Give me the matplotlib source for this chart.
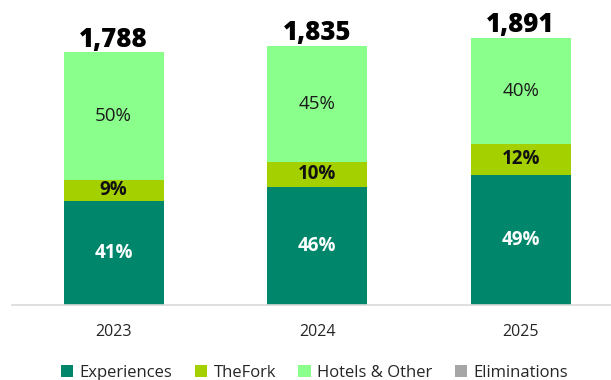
import matplotlib.pyplot as plt
import numpy as np

plt.rcParams['font.family'] = ['Open Sans', 'DejaVu Sans']

# revenue by segment (EUR m) and group total per year
years = ['2023', '2024', '2025']
totals = [1788, 1835, 1891]
experiences = [733, 837, 922]
thefork = [154, 177, 219]
hotels_other = [901, 821, 750]
eliminations = [0, 0, 0]

c_exp = '#00866A'
c_fork = '#A5D000'
c_hotel = '#8BFF8B'
c_elim = '#A6A6A6'

fig = plt.figure(figsize=(6.11, 3.80), dpi=100)
ax = fig.add_axes([12.3 / 611, 75 / 380, 1 - 12.3 / 611, 305 / 380])

x = np.arange(len(years))
w = 0.49
exp = np.array(experiences)
fork = np.array(thefork)
hot = np.array(hotels_other)

ax.bar(x, exp, w, color=c_exp, label='Experiences')
ax.bar(x, fork, w, bottom=exp, color=c_fork, label='TheFork')
ax.bar(x, hot, w, bottom=exp + fork, color=c_hotel, label='Hotels & Other')
ax.bar(x, eliminations, w, color=c_elim, label='Eliminations')

for i in range(len(years)):
    tot = totals[i]
    ax.text(x[i], exp[i] / 2, f'{round(100 * exp[i] / tot)}%', ha='center', va='center',
            color='white', fontsize=13.5, fontweight='bold')
    ax.text(x[i], exp[i] + fork[i] / 2, f'{round(100 * fork[i] / tot)}%', ha='center', va='center',
            color='#111111', fontsize=13.5, fontweight='bold')
    ax.text(x[i], exp[i] + fork[i] + hot[i] / 2, f'{round(100 * hot[i] / tot)}%', ha='center',
            va='center', color='#1a1a1a', fontsize=13.5)
    ax.annotate(f'{tot:,}', (x[i], exp[i] + fork[i] + hot[i]), xytext=(0, 4),
                textcoords='offset points', ha='center', va='baseline',
                fontsize=18.5, fontweight='heavy', color='black')

ax.set_xlim(-0.498, 2.444)
ax.set_ylim(0, 2157)
ax.set_xticks(x)
ax.set_xticklabels(years, fontsize=11.5, color='#262626')
ax.tick_params(axis='x', length=0, pad=14)
ax.set_yticks([])
for s in ['top', 'left', 'right']:
    ax.spines[s].set_visible(False)
ax.spines['bottom'].set_color('#D9D9D9')
ax.spines['bottom'].set_linewidth(1.2)

fig.legend(loc='center', bbox_to_anchor=(314.5 / 611, 1 - 373 / 380), ncol=4, frameon=False,
           fontsize=12, handlelength=0.75, handleheight=0.75, handletextpad=0.4,
           columnspacing=1.32, labelcolor='#262626', borderpad=0)

fig.savefig('out.png', dpi=100)
